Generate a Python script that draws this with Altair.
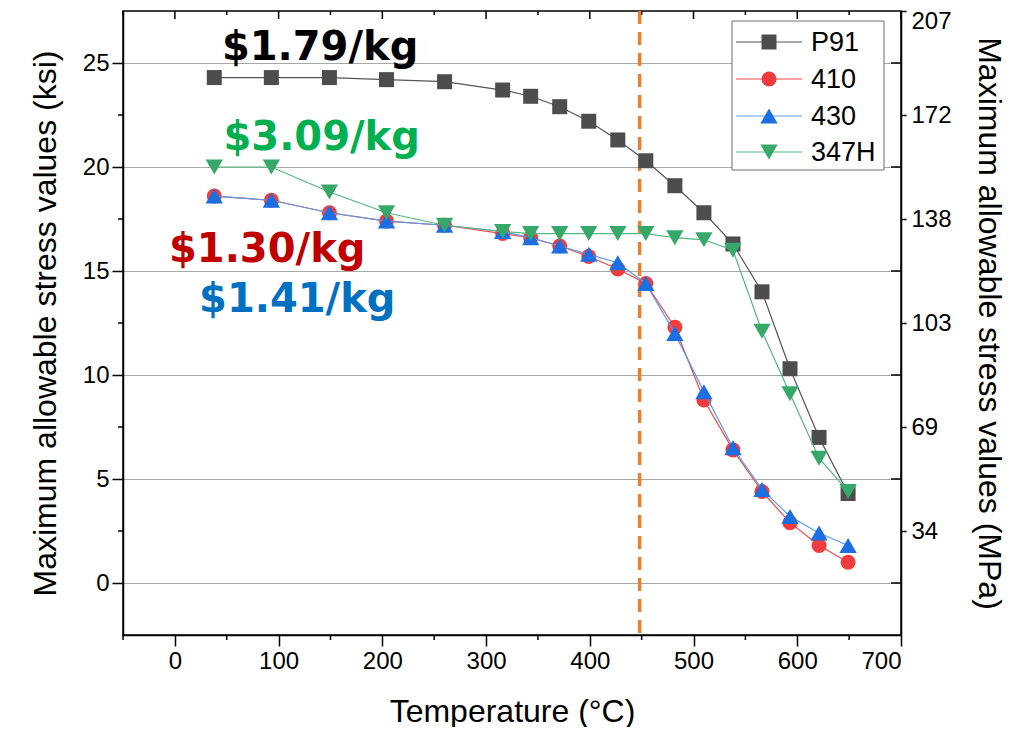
import altair as alt
import pandas as pd

# ---------------- data ----------------
temps = [38, 93, 149, 204, 260, 316, 343, 371, 399, 427, 454, 482, 510, 538, 566, 593, 621, 649]
p91 = [24.3, 24.3, 24.3, 24.2, 24.1, 23.7, 23.4, 22.9, 22.2, 21.3, 20.3, 19.1, 17.8, 16.3, 14.0, 10.3, 7.0, 4.3]
s410 = [18.6, 18.4, 17.8, 17.4, 17.2, 16.8, 16.6, 16.2, 15.7, 15.1, 14.4, 12.3, 8.8, 6.4, 4.4, 2.9, 1.8, 1.0]
s430 = [18.6, 18.4, 17.8, 17.4, 17.2, 16.9, 16.6, 16.2, 15.8, 15.4, 14.4, 12.0, 9.2, 6.5, 4.5, 3.2, 2.4, 1.8]
s347h = [20.0, 20.0, 18.8, 17.8, 17.2, 16.9, 16.8, 16.8, 16.8, 16.8, 16.8, 16.6, 16.5, 16.0, 12.1, 9.1, 6.0, 4.4]

series_names = ["P91", "410", "430", "347H"]
series_values = [p91, s410, s430, s347h]
marker_colors = ["#4D4D4D", "#F03C3C", "#1C6FE3", "#36A96A"]
line_colors = ["#555555", "#F04848", "#5A9BEA", "#52B97C"]
shapes = ["square", "circle", "triangle-up", "triangle-down"]
sizes = [225, 225, 300, 300]

price_labels = ["$1.79/kg", "$3.09/kg", "$1.30/kg", "$1.41/kg"]
price_colors = ["#000000", "#00B050", "#C00000", "#0070C0"]
price_x = [140, 141.5, 89, 118]
price_y = [25.15, 20.8, 15.45, 13.05]

limit_temp = [448]

ksi_ticks = [0, 5, 10, 15, 20, 25]
ksi_minor = [2.5, 7.5, 12.5, 17.5, 22.5]
temp_ticks = [0, 100, 200, 300, 400, 500, 600, 700]
temp_minor = [-50, 50, 150, 250, 350, 450, 550, 650]
mpa_ticks = [34.5, 69, 103.5, 138, 172.5, 207]
mpa_minor = [17.25, 51.75, 86.25, 120.75, 155.25, 189.75]

W, H = 778, 624
FONT = "Liberation Sans"


def xs():
    return alt.Scale(domain=[-50, 700], nice=False, zero=False)


def ys():
    return alt.Scale(domain=[-2.5, 27.5], nice=False, zero=False)


def ms():
    return alt.Scale(domain=[0, 207], nice=False, zero=False)


def x_axis():
    return alt.Axis(values=temp_ticks, title="Temperature (°C)", tickSize=11,
                    labelPadding=3, grid=False, titlePadding=23)


def X(field):
    return alt.X(field, scale=xs(), axis=x_axis())


one = pd.DataFrame({"a": [0]})

layers = []

# left axis + gridlines, with minor ticks (outward)
df_kmin = pd.DataFrame({"v": ksi_minor})
layers.append(
    alt.Chart(df_kmin).mark_rule(color="black", strokeWidth=1.5).encode(
        y=alt.Y("v:Q", scale=ys(), axis=alt.Axis(
            values=ksi_ticks, title="Maximum allowable stress values (ksi)",
            tickSize=11, labelPadding=3, grid=True, gridColor="#A8A8A8",
            gridWidth=1.2, titlePadding=20)),
        x=alt.value(-5), x2=alt.value(0),
    )
)

# bottom minor ticks (outward)
df_tmin = pd.DataFrame({"t": temp_minor})
layers.append(
    alt.Chart(df_tmin).mark_rule(color="black", strokeWidth=1.5).encode(
        x=X("t:Q"), y=alt.value(H), y2=alt.value(H + 5),
    )
)

# top ticks (inward)
df_top_major = pd.DataFrame({"t": temp_ticks})
df_top_minor = pd.DataFrame({"t": temp_minor})
layers.append(
    alt.Chart(df_top_major).mark_rule(color="black", strokeWidth=1.5).encode(
        x=X("t:Q"), y=alt.value(0), y2=alt.value(8))
)
layers.append(
    alt.Chart(df_top_minor).mark_rule(color="black", strokeWidth=1.5).encode(
        x=X("t:Q"), y=alt.value(0), y2=alt.value(4))
)

# right MPa axis with inward ticks
df_mmin = pd.DataFrame({"m": mpa_minor})
layers.append(
    alt.Chart(df_mmin).mark_rule(color="black", strokeWidth=1.5).encode(
        y=alt.Y("m:Q", scale=ms(), axis=alt.Axis(
            orient="right", values=mpa_ticks, labelExpr="floor(datum.value)",
            tickSize=5, labelPadding=5, grid=False, labelFlush=True,
            labelFlushOffset=2,
            title="Maximum allowable stress values (MPa)", titlePadding=20)),
        x=alt.value(W - 10), x2=alt.value(W),
    )
)

# 450 C limit line
layers.append(
    alt.Chart(pd.DataFrame({"t": limit_temp})).mark_rule(
        color="#ED7D31", strokeWidth=3.5, strokeDash=[13, 8]).encode(
        x=X("t:Q"))
)

# series
for name, vals, mc, lc, sh, sz in zip(series_names, series_values, marker_colors,
                                      line_colors, shapes, sizes):
    df = pd.DataFrame({"t": temps, "v": vals})
    enc = dict(x=X("t:Q"), y=alt.Y("v:Q", scale=ys(), axis=None))
    layers.append(alt.Chart(df).mark_line(color=lc, strokeWidth=1.2).encode(**enc))
    layers.append(alt.Chart(df).mark_point(filled=True, shape=sh, size=sz, color=mc,
                                           opacity=1).encode(**enc))

# price annotations
for lab, col, px, py in zip(price_labels, price_colors, price_x, price_y):
    dfa = pd.DataFrame({"t": [px], "v": [py], "label": [lab]})
    layers.append(
        alt.Chart(dfa).mark_text(font="DejaVu Sans", fontWeight="bold", fontSize=40,
                                 color=col, align="center", baseline="alphabetic").encode(
            x=X("t:Q"),
            y=alt.Y("v:Q", scale=ys(), axis=None),
            text="label:N",
        )
    )

# legend
leg_x0, leg_x1, leg_y0, leg_y1 = 609, 761, 10, 159
layers.append(
    alt.Chart(one).mark_rect(fill="white", stroke="#6E6E6E", strokeWidth=1).encode(
        x=alt.value(leg_x0), x2=alt.value(leg_x1), y=alt.value(leg_y0), y2=alt.value(leg_y1))
)
row_y = [31, 68, 105, 141]
for name, mc, lc, sh, sz, ry in zip(series_names, marker_colors, line_colors, shapes, sizes, row_y):
    layers.append(
        alt.Chart(one).mark_rule(color=lc, strokeWidth=1.2).encode(
            x=alt.value(613), x2=alt.value(679), y=alt.value(ry))
    )
    layers.append(
        alt.Chart(one).mark_point(filled=True, shape=sh, size=sz, color=mc, opacity=1).encode(
            x=alt.value(646), y=alt.value(ry))
    )
    layers.append(
        alt.Chart(one).mark_text(font=FONT, fontSize=27, color="black", align="left",
                                 baseline="middle", text=name).encode(
            x=alt.value(688), y=alt.value(ry + 1))
    )

chart = alt.layer(*layers).resolve_scale(y="independent").properties(
    width=W, height=H,
    autosize=alt.AutoSizeParams(type="none"),
    padding={"left": 115, "top": 3, "right": 110, "bottom": 92},
).configure_view(stroke="black", strokeWidth=1.5).configure_axis(
    labelFont=FONT, titleFont=FONT, labelFontSize=24, titleFontSize=32,
    titleFontWeight="normal", labelColor="black", titleColor="black",
    domainColor="black", tickColor="black", domainWidth=1.5, tickWidth=1.5,
)

chart.save("out.html", embed_options={"renderer": "svg", "actions": False})
